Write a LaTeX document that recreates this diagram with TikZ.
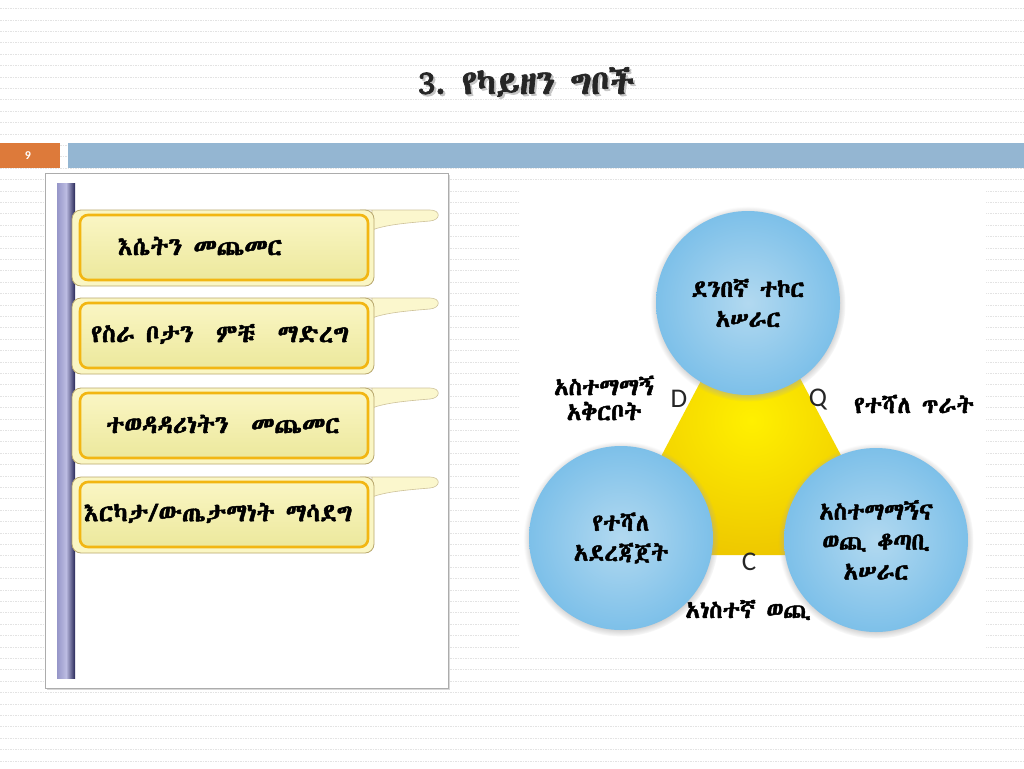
\documentclass[tikz,border=0pt]{standalone}
\usepackage{fontspec}
\setmainfont{Carlito}
\IfFontExistsTF{Abyssinica SIL}
  {\newfontfamily\ethfont[FakeBold=2]{Abyssinica SIL}}
  {\IfFontExistsTF{FreeSerif.otf}
    {\newfontfamily\ethfont[FakeBold=2]{FreeSerif.otf}}
    {\newfontfamily\ethfont{DejaVu Sans}}}
\usetikzlibrary{shadows}
\definecolor{slideorange}{RGB}{221,122,58}
\definecolor{slideblue}{RGB}{148,182,210}
\definecolor{tabgold}{RGB}{242,182,18}
\definecolor{tabpale}{RGB}{250,246,196}
\definecolor{tabdeep}{RGB}{236,232,156}
\definecolor{tabedge}{RGB}{185,168,110}
\definecolor{ballin}{RGB}{178,217,240}
\definecolor{ballout}{RGB}{125,192,233}
\definecolor{triin}{RGB}{255,240,0}
\definecolor{triout}{RGB}{238,200,0}
\begin{document}
\begin{tikzpicture}[x=1pt,y=-1pt,
  bgline/.style={gray!22, line width=0.7pt, dash pattern=on 1.6pt off 0.9pt},
  tabtext/.style={font=\ethfont\fontsize{25}{29}\selectfont},
  ball/.style={circle, minimum size=184pt, inner color=ballin, outer color=ballout,
    circular drop shadow={shadow xshift=0pt, shadow yshift=-1pt, shadow scale=1.06, fill=gray!70},
    align=center, font=\ethfont\fontsize{24}{30}\selectfont},
  sidetext/.style={align=center, font=\ethfont\fontsize{24}{25}\selectfont},
  lettertext/.style={font=\fontsize{27}{30}\selectfont, text=black!85}]
\useasboundingbox (0,0) rectangle (1024,768);
\fill[white] (0,0) rectangle (1024,768);
% dotted slide background
\foreach \k in {0,...,66}
  \draw[bgline] (0,{8.5+11.4*\k}) -- (1024,{8.5+11.4*\k});

% title
\node[font=\ethfont\fontsize{34}{38}\selectfont, text=gray!45] (titleshadow) at (528,84) {3.~የካይዘን ግቦች};
\node[font=\ethfont\fontsize{34}{38}\selectfont, text=black!85] (title) at (526,82) {3.~የካይዘን ግቦች};

% header bars
\fill[slideorange] (0,143) rectangle (60,168);
\node[font=\bfseries\fontsize{12}{14}\selectfont, text=white] (pagenum) at (28,155.5) {9};
\fill[slideblue] (68,143) rectangle (1024,168);

% left panel
\draw[gray!65, fill=white, drop shadow={shadow xshift=2pt, shadow yshift=-2pt, opacity=0.3}] (45,173) rectangle (448,688);
\shade[left color={rgb,255:red,150;green,150;blue,200}, right color={rgb,255:red,40;green,40;blue,88}, middle color={rgb,255:red,188;green,188;blue,226}] (57,183) rectangle (75,678);

\foreach \i/\ty/\cx/\txt in {1/210/200/{እሴትን መጨመር}, 2/298/220/{የስራ ቦታን~ ምቹ~ ማድረግ}, 3/388/223/{ተወዳዳሪነትን~ መጨመር}, 4/477/218/{እርካታ/ውጤታማነት ማሳደግ}} {
  \draw[tabedge!70, fill=tabpale!85!white, line width=0.6pt] (360,\ty) -- (430,\ty) .. controls (441,\ty) and (441,\ty+10) .. (430,\ty+11) .. controls (405,\ty+13) and (385,\ty+15) .. (372,\ty+20) -- (372,\ty) -- cycle;
  \draw[tabedge, fill=tabpale, line width=0.8pt, rounded corners=9pt] (72,\ty) rectangle (374,\ty+76);
  \draw[tabgold, line width=2.6pt, rounded corners=8pt, top color=tabpale, bottom color=tabdeep] (80,\ty+5) rectangle (368,\ty+70);
  \node[tabtext] (tab\i) at (\cx,\ty+36) {\txt};
}

% right figure
\fill[white] (520,187) rectangle (986,657);
\shade[inner color=triin, outer color=triout] (751,286) -- (609,555) -- (894,555) -- cycle;
\node[ball] (quality) at (748,303) {ደንበኛ ተኮር\\አሠራር};
\node[ball] (organize) at (621,538) {የተሻለ\\አደረጃጀት};
\node[ball] (costsave) at (876,540) {አስተማማኝና\\ወጪ ቆጣቢ\\አሠራር};

\node[lettertext] (dlabel) at (679,399) {D};
\node[lettertext] (qlabel) at (818,400) {Q};
\node[lettertext] (clabel) at (749,562) {C};
\node[sidetext] (delivery) at (604,398) {አስተማማኝ\\አቅርቦት};
\node[sidetext] (betterq) at (914,404) {የተሻለ ጥራት};
\node[sidetext] (lowcost) at (748,610) {አነስተኛ ወጪ};
\end{tikzpicture}
\end{document}
